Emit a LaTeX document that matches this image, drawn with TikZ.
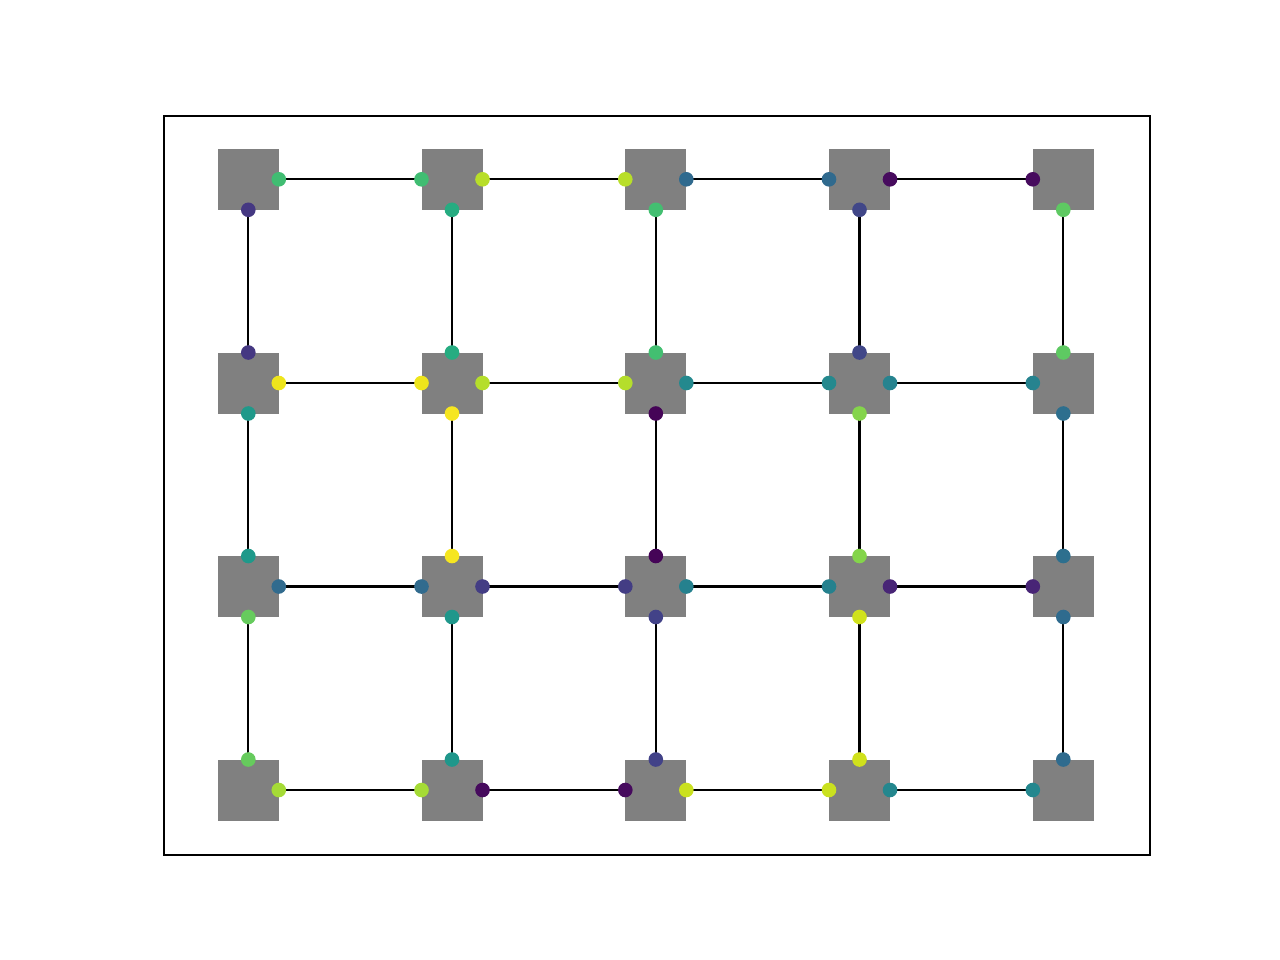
\documentclass[tikz,border=0pt]{standalone}
\definecolor{sqgray}{HTML}{808080}
% horizontal edges, row r, between column c and c+1: hRC
\definecolor{hAa}{HTML}{40BD72}
\definecolor{hAb}{HTML}{B8DE29}
\definecolor{hAc}{HTML}{306A8E}
\definecolor{hAd}{HTML}{470B5E}
\definecolor{hBa}{HTML}{EEE51C}
\definecolor{hBb}{HTML}{B5DE2B}
\definecolor{hBc}{HTML}{24898E}
\definecolor{hBd}{HTML}{26838F}
\definecolor{hCa}{HTML}{316B8E}
\definecolor{hCb}{HTML}{433D84}
\definecolor{hCc}{HTML}{25818E}
\definecolor{hCd}{HTML}{482576}
\definecolor{hDa}{HTML}{A5DB36}
\definecolor{hDb}{HTML}{460A5D}
\definecolor{hDc}{HTML}{CAE11F}
\definecolor{hDd}{HTML}{24878E}
% vertical edges, column c, between row r and r+1
\definecolor{vAa}{HTML}{453882}
\definecolor{vAb}{HTML}{26AC81}
\definecolor{vAc}{HTML}{43BF71}
\definecolor{vAd}{HTML}{414788}
\definecolor{vAe}{HTML}{5EC962}
\definecolor{vBa}{HTML}{1F998A}
\definecolor{vBb}{HTML}{F6E620}
\definecolor{vBc}{HTML}{450457}
\definecolor{vBd}{HTML}{84D44B}
\definecolor{vBe}{HTML}{2D6F8E}
\definecolor{vCa}{HTML}{66CB5D}
\definecolor{vCb}{HTML}{1F978B}
\definecolor{vCc}{HTML}{424288}
\definecolor{vCd}{HTML}{D0E11C}
\definecolor{vCe}{HTML}{2F6B8E}
\tikzset{
  sq/.style={fill=sqgray, draw=none, minimum size=21.96pt, inner sep=0pt, outer sep=0pt},
  edge/.style={draw=black, line width=0.85pt},
  frame/.style={draw=black, line width=0.8pt},
}
\newcommand{\dotr}{2.63pt}
\newcommand{\edgeH}[3]{\draw[edge] (#1.east) -- (#2.west);
  \fill[#3] (#1.east) circle (\dotr); \fill[#3] (#2.west) circle (\dotr);}
\newcommand{\edgeV}[3]{\draw[edge] (#1.south) -- (#2.north);
  \fill[#3] (#1.south) circle (\dotr); \fill[#3] (#2.north) circle (\dotr);}
\begin{document}
\begin{tikzpicture}[x=0.36pt,y=-0.36pt]
\useasboundingbox (0,0) rectangle (1280,960);
\node[frame, minimum width=354.96pt, minimum height=266.04pt, inner sep=0pt, anchor=north west] (axes) at (162.6,114.6) {};
\foreach \c/\x in {0/248.3,1/452,2/655.8,3/859.5,4/1063.3}{
  \foreach \r/\y in {0/179.3,1/383,2/586.5,3/790}{
    \node[sq] (n\c\r) at (\x,\y) {};
  }
}
% horizontal edges
\edgeH{n00}{n10}{hAa}\edgeH{n10}{n20}{hAb}\edgeH{n20}{n30}{hAc}\edgeH{n30}{n40}{hAd}
\edgeH{n01}{n11}{hBa}\edgeH{n11}{n21}{hBb}\edgeH{n21}{n31}{hBc}\edgeH{n31}{n41}{hBd}
\edgeH{n02}{n12}{hCa}\edgeH{n12}{n22}{hCb}\edgeH{n22}{n32}{hCc}\edgeH{n32}{n42}{hCd}
\edgeH{n03}{n13}{hDa}\edgeH{n13}{n23}{hDb}\edgeH{n23}{n33}{hDc}\edgeH{n33}{n43}{hDd}
% vertical edges
\edgeV{n00}{n01}{vAa}\edgeV{n10}{n11}{vAb}\edgeV{n20}{n21}{vAc}\edgeV{n30}{n31}{vAd}\edgeV{n40}{n41}{vAe}
\edgeV{n01}{n02}{vBa}\edgeV{n11}{n12}{vBb}\edgeV{n21}{n22}{vBc}\edgeV{n31}{n32}{vBd}\edgeV{n41}{n42}{vBe}
\edgeV{n02}{n03}{vCa}\edgeV{n12}{n13}{vCb}\edgeV{n22}{n23}{vCc}\edgeV{n32}{n33}{vCd}\edgeV{n42}{n43}{vCe}
\end{tikzpicture}
\end{document}
